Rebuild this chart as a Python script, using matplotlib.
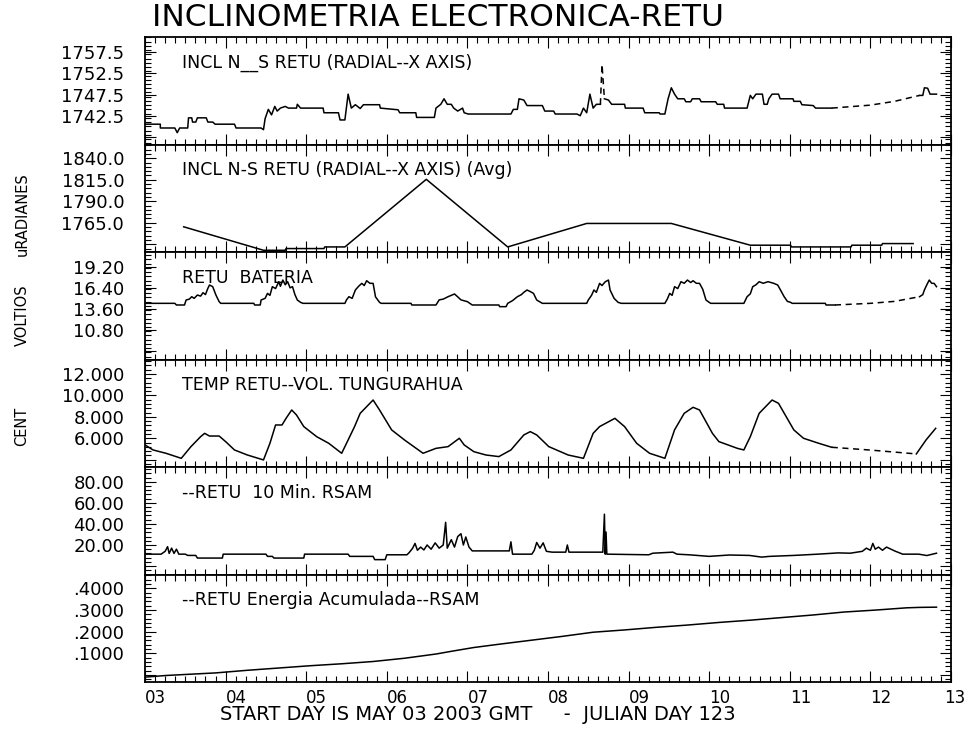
import numpy as np
import matplotlib
matplotlib.use("Agg")
import matplotlib.pyplot as plt
from matplotlib.ticker import MultipleLocator

plt.rcParams['font.family'] = ['DejaVu Sans']

# ---- data (day of May 2003, value) ----
incl_t = [3.00, 3.19, 3.19, 3.37, 3.40, 3.43, 3.53, 3.54, 3.58, 3.59, 3.63, 3.65, 3.76, 3.78, 3.84, 3.87,
          4.11, 4.13, 4.44, 4.47, 4.49, 4.53, 4.57, 4.61, 4.64, 4.68, 4.74, 4.78, 4.88, 4.89, 4.93,
          5.21, 5.22, 5.40, 5.42, 5.48, 5.52, 5.56, 5.61, 5.67, 5.71, 5.91, 5.92, 6.14, 6.16, 6.36,
          6.37, 6.59, 6.61, 6.67, 6.71, 6.75, 6.80, 6.83, 6.88, 6.94, 6.96, 7.01, 7.54, 7.57, 7.62,
          7.64, 7.70, 7.74, 7.93, 7.96, 8.07, 8.09, 8.36, 8.40, 8.44, 8.48, 8.52, 8.56, 8.60, 8.65]
incl_v = [1740.5, 1740.5, 1739.6, 1739.6, 1738.5, 1739.6, 1739.6, 1742.0, 1742.0, 1741.0, 1741.0, 1742.0,
          1742.0, 1741.0, 1741.0, 1740.5, 1740.5, 1739.6, 1739.6, 1739.2, 1741.8, 1744.0, 1742.7,
          1744.7, 1743.6, 1744.3, 1744.7, 1744.3, 1744.3, 1745.2, 1744.3, 1744.3, 1743.2, 1743.2,
          1741.5, 1741.5, 1747.6, 1744.3, 1745.1, 1744.2, 1745.1, 1745.1, 1744.3, 1743.9, 1743.2,
          1743.2, 1742.1, 1742.1, 1744.3, 1745.2, 1746.5, 1745.2, 1745.2, 1744.3, 1743.6, 1744.3,
          1743.2, 1742.9, 1742.9, 1744.0, 1744.0, 1746.5, 1746.2, 1744.9, 1744.9, 1743.6, 1743.6,
          1742.9, 1742.9, 1742.5, 1744.3, 1743.2, 1747.6, 1744.3, 1745.2, 1745.2]
incl_t2 = [8.70, 8.75, 8.79, 8.95, 8.96, 9.18, 9.20, 9.38, 9.39, 9.45, 9.49, 9.53, 9.57, 9.61, 9.69,
           9.71, 9.77, 9.79, 9.88, 9.90, 10.08, 10.10, 10.18, 10.19, 10.47, 10.51, 10.54, 10.58,
           10.66, 10.68, 10.72, 10.74, 10.78, 10.86, 10.88, 11.04, 11.05, 11.13, 11.15, 11.29,
           11.32, 11.52]
incl_v2 = [1746.5, 1746.2, 1745.2, 1745.2, 1744.3, 1744.3, 1743.2, 1743.2, 1742.9, 1742.9, 1746.5,
           1749.1, 1747.6, 1746.5, 1746.5, 1745.8, 1745.8, 1746.5, 1746.5, 1745.8, 1745.8, 1745.2,
           1745.2, 1744.3, 1744.3, 1747.3, 1746.5, 1747.6, 1747.6, 1745.2, 1745.2, 1746.5, 1747.6,
           1747.6, 1746.5, 1746.5, 1745.9, 1745.9, 1745.1, 1744.9, 1744.3, 1744.3]
incl_gap_t = [8.65, 8.67, 8.70]
incl_gap_v = [1745.2, 1754.6, 1746.5]
incl_dash_t = [11.52, 12.0, 12.3, 12.61]
incl_dash_v = [1744.3, 1745.0, 1745.9, 1747.3]
incl_end_t = [12.61, 12.65, 12.67, 12.71, 12.74, 12.82]
incl_end_v = [1747.3, 1747.3, 1749.1, 1749.0, 1747.6, 1747.6]

avg_t = [3.48, 4.47, 4.74, 4.75, 5.22, 5.23, 5.48, 6.49, 7.50, 8.48, 9.53, 10.51, 11.01, 11.02,
         11.76, 11.77, 12.14, 12.15, 12.53]
avg_v = [1760.3, 1733.0, 1733.0, 1735.0, 1735.0, 1736.9, 1736.9, 1815.5, 1736.9, 1764.2, 1764.2,
         1738.9, 1738.9, 1736.9, 1736.9, 1738.9, 1738.9, 1740.8, 1740.8]

bat_t = [3.00, 3.37, 3.39, 3.49, 3.51, 3.55, 3.58, 3.61, 3.65, 3.69, 3.72, 3.75, 3.78, 3.80, 3.84,
         3.88, 3.92, 3.94, 4.35, 4.36, 4.43, 4.44, 4.49, 4.52, 4.55, 4.58, 4.62, 4.66, 4.68, 4.71,
         4.74, 4.77, 4.80, 4.83, 4.86, 4.89, 4.93, 4.96, 5.48, 5.50, 5.53, 5.57, 5.61, 5.65, 5.69,
         5.72, 5.75, 5.79, 5.83, 5.86, 5.91, 5.93, 6.30, 6.31, 6.61, 6.65, 6.70, 6.76, 6.84, 6.88,
         6.92, 7.00, 7.06, 7.39, 7.40, 7.48, 7.50, 7.56, 7.62, 7.67, 7.70, 7.74, 7.78, 7.82, 7.86,
         7.93, 8.48, 8.50, 8.54, 8.57, 8.60, 8.64, 8.67, 8.71, 8.75, 8.77, 8.82, 8.87, 8.91, 9.45,
         9.48, 9.51, 9.54, 9.57, 9.61, 9.65, 9.69, 9.73, 9.77, 9.80, 9.84, 9.88, 9.92, 9.96, 10.00,
         10.02, 10.43, 10.47, 10.51, 10.54, 10.58, 10.62, 10.67, 10.73, 10.80, 10.85, 10.89, 10.93,
         10.97, 11.01, 11.03, 11.44, 11.45, 11.56]
bat_v = [14.34, 14.34, 14.12, 14.12, 14.78, 14.90, 15.22, 15.00, 15.44, 15.30, 15.75, 15.50, 16.33,
         16.77, 16.55, 15.44, 14.56, 14.34, 14.34, 14.12, 14.12, 14.78, 15.00, 15.66, 15.40, 16.55,
         16.30, 17.21, 16.60, 17.43, 16.80, 17.21, 16.40, 16.55, 15.50, 14.78, 14.47, 14.34, 14.34,
         14.80, 15.22, 15.00, 16.11, 16.60, 16.99, 16.70, 17.34, 17.00, 16.99, 15.20, 14.47, 14.34,
         14.34, 14.12, 14.12, 14.80, 14.90, 15.22, 15.58, 15.20, 14.80, 14.56, 14.12, 14.12, 13.90,
         13.90, 14.34, 14.70, 15.22, 15.50, 15.80, 16.11, 15.90, 15.66, 14.78, 14.34, 14.34, 14.78,
         15.40, 16.11, 15.80, 16.99, 16.70, 17.20, 17.43, 16.11, 15.00, 14.47, 14.34, 14.34, 14.90,
         15.66, 15.40, 16.55, 16.30, 17.21, 17.00, 17.43, 17.10, 17.34, 17.00, 16.99, 16.20, 14.78,
         14.47, 14.34, 14.34, 15.22, 15.60, 16.55, 16.80, 17.21, 17.00, 17.21, 17.00, 16.77, 16.00,
         15.22, 14.60, 14.47, 14.34, 14.34, 14.12, 14.12]
bat_dash_t = [11.56, 12.0, 12.3, 12.61]
bat_dash_v = [14.12, 14.34, 14.60, 15.22]
bat_end_t = [12.61, 12.65, 12.67, 12.70, 12.73, 12.76, 12.79, 12.82]
bat_end_v = [15.22, 15.50, 16.11, 16.80, 17.43, 17.00, 16.99, 16.55]

temp_t = [3.00, 3.10, 3.26, 3.45, 3.57, 3.69, 3.74, 3.80, 3.92, 4.00, 4.11, 4.27, 4.47, 4.55, 4.62,
          4.70, 4.75, 4.82, 4.88, 4.97, 5.13, 5.28, 5.44, 5.52, 5.60, 5.67, 5.83, 5.91, 6.06, 6.22,
          6.45, 6.61, 6.76, 6.90, 6.96, 7.08, 7.23, 7.39, 7.54, 7.70, 7.78, 7.86, 8.01, 8.25, 8.44,
          8.56, 8.64, 8.83, 8.95, 9.10, 9.26, 9.45, 9.57, 9.69, 9.80, 9.88, 10.04, 10.12, 10.35,
          10.43, 10.51, 10.62, 10.78, 10.86, 11.05, 11.17, 11.36, 11.52]
temp_v = [5.38, 4.91, 4.60, 4.13, 5.22, 6.15, 6.46, 6.21, 6.21, 5.69, 4.91, 4.44, 3.98, 5.53, 7.24,
          7.24, 7.86, 8.64, 8.17, 7.09, 6.15, 5.53, 4.60, 5.84, 7.09, 8.33, 9.57, 8.64, 6.78, 5.84,
          4.60, 5.06, 5.22, 6.00, 5.38, 4.75, 4.44, 4.29, 4.91, 6.31, 6.62, 6.31, 5.22, 4.44, 4.13,
          6.46, 7.09, 7.86, 7.09, 5.53, 4.60, 4.13, 6.78, 8.33, 8.89, 8.64, 6.46, 5.69, 5.06, 4.91,
          6.15, 8.33, 9.57, 9.26, 6.78, 6.00, 5.53, 5.16]
temp_dash_t = [11.52, 12.0, 12.57]
temp_dash_v = [5.16, 4.90, 4.54]
temp_end_t = [12.57, 12.69, 12.81]
temp_end_v = [4.54, 5.84, 6.93]

rsam_t = [3.00, 3.20, 3.25, 3.28, 3.30, 3.33, 3.36, 3.39, 3.42, 3.50, 3.53, 3.63, 3.65, 3.96, 3.97,
          4.50, 4.52, 4.58, 4.60, 4.97, 4.98, 5.52, 5.54, 5.83, 5.85, 5.98, 6.00, 6.25, 6.28, 6.32,
          6.35, 6.38, 6.42, 6.46, 6.50, 6.55, 6.60, 6.65, 6.70, 6.73, 6.75, 6.80, 6.84, 6.88, 6.92,
          6.95, 6.98, 7.02, 7.06, 7.52, 7.54, 7.56, 7.80, 7.83, 7.86, 7.90, 7.94, 7.98, 8.05, 8.22,
          8.24, 8.26, 8.68, 8.70, 8.71, 8.72, 8.73, 9.25, 9.30, 9.55, 9.60, 9.75, 10.00, 10.25,
          10.50, 10.65, 10.75, 11.05, 11.35, 11.60, 11.75, 11.90, 11.95, 12.00, 12.03, 12.06, 12.10,
          12.15, 12.20, 12.30, 12.40, 12.60, 12.70, 12.82]
rsam_v = [11.3, 11.3, 14.0, 18.4, 12.0, 17.0, 12.0, 16.0, 11.3, 11.3, 10.1, 10.1, 7.6, 7.6, 11.3,
          11.3, 9.2, 9.2, 7.6, 7.6, 11.3, 11.3, 9.2, 9.2, 6.1, 6.1, 10.7, 10.7, 13.0, 16.9,
          21.5, 15.0, 18.0, 15.3, 20.0, 16.0, 22.0, 17.0, 20.0, 41.5, 17.0, 25.0, 18.0, 28.0, 30.7,
          20.0, 27.6, 18.0, 14.4, 14.4, 23.0, 11.3, 11.3, 15.0, 22.4, 17.0, 22.0, 14.0, 13.2, 13.2,
          20.0, 13.2, 13.2, 49.2, 11.3, 32.3, 11.3, 10.7, 12.2, 13.2, 11.3, 10.7, 9.2, 10.5,
          10.1, 8.5, 9.2, 10.1, 11.3, 12.5, 12.2, 14.0, 17.0, 15.0, 21.5, 16.0, 18.0,
          15.0, 18.0, 14.4, 11.3, 11.3, 10.0, 12.2]

ener_t = [3.00, 3.26, 3.49, 3.88, 4.27, 4.66, 5.05, 5.44, 5.83, 6.22, 6.61, 6.84, 7.08, 7.39, 7.78,
          8.17, 8.56, 8.95, 9.34, 9.73, 10.12, 10.51, 10.90, 11.29, 11.67, 12.06, 12.45, 12.61, 12.82]
ener_v = [-0.0095, -0.002, 0.0025, 0.010, 0.022, 0.0325, 0.043, 0.052, 0.0625, 0.0775, 0.097, 0.112,
          0.127, 0.142, 0.160, 0.178, 0.1975, 0.208, 0.220, 0.2305, 0.2425, 0.253, 0.265, 0.277,
          0.2905, 0.2995, 0.310, 0.312, 0.313]

panel_titles = ["INCL N__S RETU (RADIAL--X AXIS)", "INCL N-S RETU (RADIAL--X AXIS) (Avg)",
                "RETU  BATERIA", "TEMP RETU--VOL. TUNGURAHUA", "--RETU  10 Min. RSAM",
                "--RETU Energia Acumulada--RSAM"]
ylims = [(1735.7, 1761.1), (1731.0, 1856.0), (6.89, 21.15), (3.32, 13.35), (-8.0, 94.0), (-0.032, 0.4636)]
yticks = [[1737.5, 1742.5, 1747.5, 1752.5, 1757.5], [1740.0, 1765.0, 1790.0, 1815.0, 1840.0],
          [8.0, 10.8, 13.6, 16.4, 19.2], [4.0, 6.0, 8.0, 10.0, 12.0], [0.0, 20.0, 40.0, 60.0, 80.0],
          [0.0, 0.1, 0.2, 0.3, 0.4]]
ylabels = [["", "1742.5", "1747.5", "1752.5", "1757.5"], ["", "1765.0", "1790.0", "1815.0", "1840.0"],
           ["", "10.80", "13.60", "16.40", "19.20"], ["", "6.000", "8.000", "10.000", "12.000"],
           ["", "20.00", "40.00", "60.00", "80.00"], ["", ".1000", ".2000", ".3000", ".4000"]]
yminor = [1.0, 5.0, 0.56, 0.4, 4.0, 0.02]
day_ticks = list(range(3, 14))
day_labels = ["%02d" % d for d in day_ticks]

W, H = 967, 736
fig = plt.figure(figsize=(W / 100, H / 100), dpi=100)
left, right, top, bottom = 145, 951, 37, 682
ph = (bottom - top) / 6.0
axes = []
for i in range(6):
    y0 = top + (i + 1) * ph
    ax = fig.add_axes([left / W, 1 - y0 / H, (right - left) / W, ph / H])
    axes.append(ax)

series = [
    [(incl_t, incl_v, '-'), (incl_t2, incl_v2, '-'), (incl_gap_t, incl_gap_v, '--'),
     (incl_dash_t, incl_dash_v, '--'), (incl_end_t, incl_end_v, '-')],
    [(avg_t, avg_v, '-')],
    [(bat_t, bat_v, '-'), (bat_dash_t, bat_dash_v, '--'), (bat_end_t, bat_end_v, '-')],
    [(temp_t, temp_v, '-'), (temp_dash_t, temp_dash_v, '--'), (temp_end_t, temp_end_v, '-')],
    [(rsam_t, rsam_v, '-')],
    [(ener_t, ener_v, '-')],
]

for i, ax in enumerate(axes):
    for t, v, ls in series[i]:
        if ls == '--':
            ax.plot(t, v, color='black', lw=1.1, ls=(0, (4, 3)))
        else:
            ax.plot(t, v, color='black', lw=1.1)
    ax.set_xlim(3, 13)
    ax.set_ylim(*ylims[i])
    ax.set_xticks(day_ticks)
    ax.xaxis.set_minor_locator(MultipleLocator(0.125))
    ax.set_yticks(yticks[i], ylabels[i])
    ax.yaxis.set_minor_locator(MultipleLocator(yminor[i]))
    ax.tick_params(which='both', direction='in', top=True, right=True, width=0.8, labelsize=13)
    ax.tick_params(which='major', length=8)
    ax.tick_params(which='minor', length=4)
    ax.tick_params(axis='y', pad=15)
    for s in ax.spines.values():
        s.set_linewidth(1.3)
    if i < 5:
        ax.tick_params(axis='x', labelbottom=False)
    else:
        # last day label is drawn separately so it stays inside the canvas
        ax.set_xticklabels(day_labels[:-1] + [""])
        for lab in ax.get_xticklabels():
            lab.set_horizontalalignment('left')
        ax.tick_params(axis='x', pad=5, labelsize=12)
        ax.annotate(day_labels[-1], xy=(day_ticks[-1], 0), xycoords=('data', 'axes fraction'),
                    xytext=(-5, -5), textcoords='offset points', ha='left', va='top',
                    fontsize=12, annotation_clip=False)
    ax.text(0.046, 0.76, panel_titles[i], transform=ax.transAxes, fontsize=12.5, va='center', ha='left')

fig.text(152 / W, 1 - 18 / H, "INCLINOMETRIA ELECTRONICA-RETU", fontsize=22.5, ha='left', va='center')
fig.text(22 / W, 1 - 214 / H, "uRADIANES", rotation=90, fontsize=10.5, ha='center', va='center')
fig.text(22 / W, 1 - 315 / H, "VOLTIOS", rotation=90, fontsize=10.5, ha='center', va='center')
fig.text(22 / W, 1 - 426 / H, "CENT", rotation=90, fontsize=10.5, ha='center', va='center')
fig.text(220 / W, 1 - 715 / H, "START DAY IS MAY 03 2003 GMT     -  JULIAN DAY 123", fontsize=14,
         ha='left', va='center')

fig.savefig("out.png", dpi=100)
